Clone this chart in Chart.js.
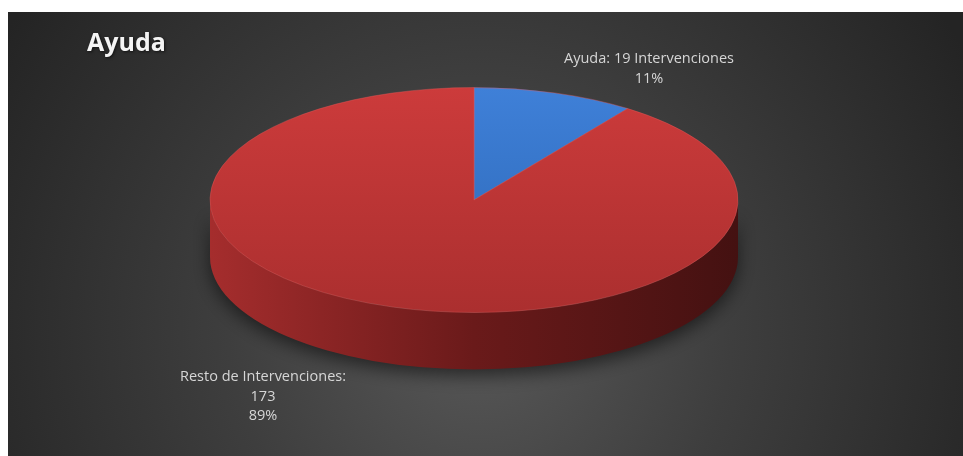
<!DOCTYPE html>
<html>
<head>
<meta charset="utf-8">
<script src="https://cdn.jsdelivr.net/npm/chart.js@4/dist/chart.umd.min.js"></script>
<style>
  html, body { margin: 0; padding: 0; background: #ffffff; }
  canvas { display: block; }
</style>
</head>
<body>
<canvas id="c" width="963" height="456"></canvas>
<script>
// ---- data ----
const chartTitle = 'Ayuda';
const categories = ['Ayuda', 'Resto de Intervenciones'];
const values = [19, 173];
const percentLabels = ['11%', '89%'];
const labelLines = [
  ['Ayuda: 19 Intervenciones', '11%'],
  ['Resto de Intervenciones:', '173', '89%']
];

// ---- styles ----
const SQUASH = 0.426;      // vertical squash of the tilted pie
const DEPTH = 57;          // thickness of the pie wall (px)
const topColors = [['#3f80d8', '#2b66b4'], ['#cc3b3b', '#ab2f2f']];
const wallColors = [['#2f64a8', '#163866'], ['#a52d2d', '#6a1a1a', '#441111']];
const labelPos = [{x: 649, y: 59}, {x: 263, y: 377}];

function arcFill(context) {
  const chart = context.chart;
  const meta = chart.getDatasetMeta(0);
  const ctrl = meta.controller;
  const i = context.dataIndex;
  if (!chart.chartArea || !ctrl || !ctrl.outerRadius) return topColors[i][0];
  const cy = (chart.chartArea.top + chart.chartArea.bottom) / 2;
  const R = ctrl.outerRadius;
  const g = chart.ctx.createLinearGradient(0, cy - R, 0, cy + R);
  g.addColorStop(0, topColors[i][0]);
  g.addColorStop(1, topColors[i][1]);
  return g;
}

const scenePlugin = {
  id: 'scene',
  beforeDraw(chart) {
    const ctx = chart.ctx;
    ctx.save();
    ctx.fillStyle = '#ffffff';
    ctx.fillRect(0, 0, chart.width, chart.height);
    const g = ctx.createRadialGradient(480, 330, 0, 480, 330, 560);
    g.addColorStop(0, '#585858');
    g.addColorStop(0.45, '#3e3e3e');
    g.addColorStop(1, '#242424');
    ctx.fillStyle = g;
    ctx.fillRect(8, 12, chart.width - 8, chart.height - 12);
    ctx.restore();
  },
  beforeDatasetsDraw(chart) {
    const ctx = chart.ctx;
    const meta = chart.getDatasetMeta(0);
    ctx.save();
    meta.data.forEach((arc, i) => {
      const p = arc.getProps(['x', 'y', 'startAngle', 'endAngle', 'outerRadius']);
      const R = p.outerRadius, ry = R * SQUASH;
      for (const k of [-2 * Math.PI, 0, 2 * Math.PI]) {
        const s = Math.max(p.startAngle + k, 0);
        const e = Math.min(p.endAngle + k, Math.PI);
        if (e <= s) continue;
        const g = ctx.createLinearGradient(p.x - R, 0, p.x + R, 0);
        const cols = wallColors[i];
        cols.forEach((c, j) => g.addColorStop(j / (cols.length - 1), c));
        ctx.beginPath();
        ctx.ellipse(p.x, p.y, R, ry, 0, s, e, false);
        ctx.ellipse(p.x, p.y + DEPTH, R, ry, 0, e, s, true);
        ctx.closePath();
        ctx.shadowColor = 'rgba(0,0,0,0.55)';
        ctx.shadowBlur = 18;
        ctx.shadowOffsetY = 6;
        ctx.fillStyle = g;
        ctx.fill();
      }
    });
    ctx.restore();
    const a = meta.data[0];
    ctx.save();
    ctx.translate(a.x, a.y);
    ctx.scale(1, SQUASH);
    ctx.translate(-a.x, -a.y);
  },
  afterDatasetsDraw(chart) {
    chart.ctx.restore();
  },
  afterDraw(chart) {
    const ctx = chart.ctx;
    ctx.save();
    ctx.shadowColor = 'rgba(0,0,0,0.6)';
    ctx.shadowBlur = 3;
    ctx.shadowOffsetX = 1;
    ctx.shadowOffsetY = 1;
    ctx.fillStyle = '#f4f4f4';
    ctx.font = 'bold 25px "Open Sans", sans-serif';
    ctx.textAlign = 'left';
    ctx.textBaseline = 'middle';
    ctx.fillText(chartTitle, 87, 44);
    ctx.shadowBlur = 0;
    ctx.shadowOffsetX = 0;
    ctx.shadowOffsetY = 0;
    ctx.fillStyle = '#d6d6d6';
    ctx.font = '14.5px "Open Sans", sans-serif';
    ctx.textAlign = 'center';
    labelLines.forEach((lines, i) => {
      lines.forEach((t, j) => ctx.fillText(t, labelPos[i].x, labelPos[i].y + j * 19.5));
    });
    ctx.restore();
  }
};

new Chart(document.getElementById('c'), {
  type: 'pie',
  data: {
    labels: categories,
    datasets: [{
      data: values,
      backgroundColor: arcFill,
      borderColor: 'rgba(230,90,90,0.55)',
      borderWidth: 1,
      clip: false
    }]
  },
  options: {
    responsive: false,
    animation: false,
    events: [],
    radius: 264,
    layout: { padding: { left: 0, right: 15, top: 0, bottom: 56 } },
    plugins: {
      legend: { display: false },
      tooltip: { enabled: false },
      title: { display: false }
    }
  },
  plugins: [scenePlugin]
});
</script>
</body>
</html>
